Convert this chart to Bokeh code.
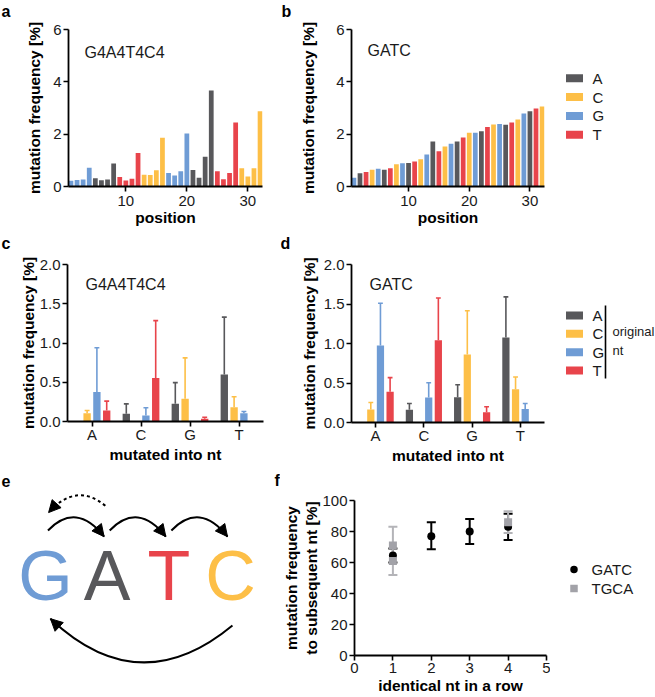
from bokeh.plotting import figure
from bokeh.models import (Range1d, FactorRange, ColumnDataSource, Label,
                          Arrow, NormalHead, Whisker, TeeHead, FixedTicker, CDSView, GroupFilter,
                          NumeralTickFormatter)
from bokeh.transform import dodge
from bokeh.layouts import column, row
from bokeh.embed import file_html
from bokeh.resources import INLINE
from bokeh.core.properties import value

FONT = "Liberation Sans"

# ---------------- data ----------------
positions = list(range(1, 33))
seq_g4 = list("GGGGAAAATTTTCCCCGGGGAAAATTTTCCCC")
freq_g4 = [0.22, 0.25, 0.27, 0.72, 0.32, 0.24, 0.27, 0.88, 0.36, 0.23, 0.30, 1.28, 0.45, 0.44, 0.62, 1.86,
           0.52, 0.42, 0.58, 2.03, 0.63, 0.33, 1.14, 3.67, 0.58, 0.28, 0.52, 2.45, 0.70, 0.38, 0.70, 2.88]
seq_gatc = list("GATC" * 8)
freq_gatc = [0.33, 0.51, 0.55, 0.64, 0.68, 0.64, 0.70, 0.85, 0.89, 0.90, 0.96, 1.04, 1.22, 1.72, 1.35, 1.53,
             1.63, 1.72, 1.87, 2.05, 2.05, 2.11, 2.27, 2.37, 2.39, 2.36, 2.45, 2.56, 2.79, 2.88, 2.98, 3.06]

nts = ["A", "C", "G", "T"]
nt_colors = ["#58585b", "#fdbf47", "#6f9cd5", "#e8444b"]
pos_ticks = [10, 20, 30]
freq_ticks = [0, 2, 4, 6]

mutated_into = ["A", "C", "G", "T"]
# mean / SD of mutation frequency, per original nt (None where original == mutated)
g4_mean = {"A": [None, 0.10, 0.225, 0.60], "C": [0.105, None, 0.29, 0.18],
           "G": [0.375, 0.077, None, 0.106], "T": [0.14, 0.553, 0.034, None]}
g4_sd = {"A": [None, 0.125, 0.27, 0.73], "C": [0.035, None, 0.52, 0.135],
         "G": [0.565, 0.098, None, 0.022], "T": [0.12, 0.732, 0.021, None]}
gatc_mean = {"A": [None, 0.16, 0.32, 1.076], "C": [0.165, None, 0.86, 0.42],
             "G": [0.975, 0.318, None, 0.17], "T": [0.39, 1.04, 0.13, None]}
gatc_sd = {"A": [None, 0.08, 0.158, 0.514], "C": [0.089, None, 0.555, 0.156],
           "G": [0.535, 0.186, None, 0.07], "T": [0.178, 0.536, 0.07, None]}
cd_ticks = [0, 0.5, 1.0, 1.5, 2.0]

motif = ["G", "A", "T", "C"]
motif_colors = ["#6f9cd5", "#58585b", "#e8444b", "#fdbf47"]

row_len = [1, 2, 3, 4]
gatc_sub_mean = [64.5, 77.0, 80.0, 83.0]
gatc_sub_low = [60.0, 68.5, 72.0, 74.5]
gatc_sub_high = [69.0, 86.0, 88.0, 91.5]
tgca_len = [1, 1, 4]
tgca_sub_mean = [71.0, 61.0, 86.0]
tgca_err_len = [1, 4]
tgca_err_low = [52.0, 79.0]
tgca_err_high = [83.0, 93.0]
f_xticks = [0, 1, 2, 3, 4, 5]
f_yticks = [0, 20, 40, 60, 80, 100]
series_f = ["GATC", "TGCA"]
series_f_colors = ["black", "#a2a2a8"]
series_f_markers = ["circle", "square"]

# ---------------- layout (page pixels, origin at top-left) ----------------
R1, R2, R3 = 0, 232, 472
H1, H2, H3 = 232, 240, 225
STRIP = 12
LEGX = 550           # left edge of the legend column
LEGW = 655 - LEGX


def no_align(f):
    try:
        f.frame_align = False
    except Exception:
        pass
    return f


def make_fig(col_x, col_w, row_y, row_h, box, x_range, y_range, **kw):
    left, top, w, h = box
    ml = left - col_x
    mt = top - row_y
    f = figure(width=col_w, height=row_h, x_range=x_range, y_range=y_range,
               output_backend="svg", toolbar_location=None, tools="",
               min_border_left=ml, min_border_top=mt,
               min_border_right=col_w - ml - w, min_border_bottom=row_h - mt - h, **kw)
    f.outline_line_color = None
    f.background_fill_color = "white"
    f.border_fill_color = "white"
    return no_align(f)


def blank_fig(width, height, xr, yr):
    f = figure(width=width, height=height, x_range=Range1d(*xr), y_range=Range1d(*yr),
               output_backend="svg", toolbar_location=None, tools="",
               x_axis_type=None, y_axis_type=None,
               min_border_left=0, min_border_right=0, min_border_top=0, min_border_bottom=0)
    f.outline_line_color = None
    f.xgrid.visible = False
    f.ygrid.visible = False
    f.background_fill_color = "white"
    f.border_fill_color = "white"
    return no_align(f)


def page_fig(x0, width, row_y, row_h):
    """blank figure whose data coordinates are page pixels (y downwards)"""
    return blank_fig(width, row_h, (x0, x0 + width), (row_y + row_h, row_y))


def letter_strip(letter, x0, row_y, row_h, px, py):
    f = page_fig(x0, STRIP, row_y, row_h)
    f.text(x=[px], y=[py], text=[letter], text_font=value(FONT),
           text_font_size=value("16px"), text_font_style="bold", text_color="black",
           text_align="left", text_baseline="middle")
    return f


def to_data(px, py, box, xr, yr):
    left, top, w, h = box
    x = xr[0] + (px - left) / w * (xr[1] - xr[0])
    y = yr[0] + (top + h - py) / h * (yr[1] - yr[0])
    return x, y


def style_axes(f, xlabel, ylabel, x_std, x_als, y_als):
    f.xgrid.visible = False
    f.ygrid.visible = False
    for ax in list(f.xaxis) + list(f.yaxis):
        ax.axis_line_color = "black"
        ax.axis_line_width = 1.8
        ax.major_tick_line_color = "black"
        ax.major_tick_line_width = 1.6
        ax.major_tick_out = 5
        ax.major_tick_in = 0
        ax.minor_tick_line_color = None
        ax.major_label_text_font = FONT
        ax.major_label_text_font_size = "15px"
        ax.major_label_text_color = "#1a1a1a"
        ax.axis_label_text_font = FONT
        ax.axis_label_text_font_style = "bold"
        ax.axis_label_text_font_size = "15.5px"
        ax.axis_label_text_color = "black"
    f.xaxis.axis_label = xlabel
    f.yaxis.axis_label = ylabel
    f.xaxis.major_label_standoff = x_std
    f.xaxis.axis_label_standoff = x_als
    f.yaxis.major_label_standoff = 2
    f.yaxis.axis_label_standoff = y_als


def add_text(f, text, px, py, box, xr, yr, size="16px"):
    x, y = to_data(px, py, box, xr, yr)
    f.add_layout(Label(x=x, y=y, text=text, text_font=FONT, text_font_size=size,
                       text_color="#1a1a1a", text_baseline="middle", text_align="left"))


def nt_legend(f, y0, step):
    ys = [y0 + step * i for i in range(len(nts))]
    f.rect(x=[574] * len(nts), y=ys, width=17, height=8, fill_color=nt_colors, line_color=None)
    f.text(x=[592] * len(nts), y=ys, text=nts, text_font=value(FONT), text_font_size=value("15px"),
           text_color="#1a1a1a", text_align="left", text_baseline="middle")


# ---------------- panels a / b ----------------
def position_panel(col_x, col_w, box, seq, freq, label, y_als, ty):
    xr, yr = (0.6, 32.4), (0, 6)
    f = make_fig(col_x, col_w, R1, H1, box, Range1d(*xr), Range1d(*yr))
    src = ColumnDataSource(dict(pos=positions, freq=freq, nt=seq))
    for n, c in zip(nts, nt_colors):
        f.vbar(x="pos", top="freq", width=0.78, source=src,
               view=CDSView(filter=GroupFilter(column_name="nt", group=n)),
               fill_color=c, line_color=None)
    style_axes(f, "position", "mutation frequency [%]", 4, 0, y_als)
    f.xaxis.ticker = FixedTicker(ticks=pos_ticks)
    f.yaxis.ticker = FixedTicker(ticks=freq_ticks)
    add_text(f, label, box[0] + 16, ty, box, xr, yr)
    return f


sa = letter_strip("a", 0, R1, H1, 1, 11)
pa = position_panel(STRIP, 268, (68, 29, 194, 157), seq_g4, freq_g4, "G4A4T4C4", 7, 52)
sb = letter_strip("b", 280, R1, H1, 281, 11)
pb = position_panel(280 + STRIP, LEGX - 280 - STRIP, (351, 29, 193, 157), seq_gatc, freq_gatc,
                    "GATC", 16, 50)
lb = page_fig(LEGX, LEGW, R1, H1)
nt_legend(lb, 77.7, 18.85)

# ---------------- panels c / d ----------------
offsets = [-0.3, -0.1, 0.1, 0.3]


def mut_panel(col_x, col_w, box, means, sds, label, y_als):
    xr, yr = (0, 4), (0, 2)
    f = make_fig(col_x, col_w, R2, H2, box, FactorRange(factors=mutated_into, range_padding=0),
                 Range1d(*yr))
    for n, c, off in zip(nts, nt_colors, offsets):
        cats = [m for m, v in zip(mutated_into, means[n]) if v is not None]
        vals = [v for v in means[n] if v is not None]
        sd = [s for s in sds[n] if s is not None]
        src = ColumnDataSource(dict(cat=cats, val=vals, up=[v + s for v, s in zip(vals, sd)]))
        f.vbar(x=dodge("cat", off, range=f.x_range), top="val", width=0.15, source=src,
               fill_color=c, line_color=None)
        f.segment(x0=dodge("cat", off, range=f.x_range), y0="val",
                  x1=dodge("cat", off, range=f.x_range), y1="up", source=src,
                  line_color=c, line_width=1.6)
        f.segment(x0=dodge("cat", off - 0.05, range=f.x_range), y0="up",
                  x1=dodge("cat", off + 0.05, range=f.x_range), y1="up", source=src,
                  line_color=c, line_width=1.6)
    style_axes(f, "mutated into nt", "mutation frequency [%]", -1, 0, y_als)
    f.yaxis.ticker = FixedTicker(ticks=cd_ticks)
    f.yaxis.formatter = NumeralTickFormatter(format="0.0")
    add_text(f, label, box[0] + 18, 284, box, xr, yr)
    return f


sc = letter_strip("c", 0, R2, H2, 1, 243)
pc = mut_panel(STRIP, 268, (67, 264, 196, 157), g4_mean, g4_sd, "G4A4T4C4", 0)
sd_ = letter_strip("d", 280, R2, H2, 280, 243)
pd_ = mut_panel(280 + STRIP, LEGX - 280 - STRIP, (351, 264, 193, 158), gatc_mean, gatc_sd, "GATC", 3)
ld = page_fig(LEGX, LEGW, R2, H2)
nt_legend(ld, 315, 18.35)
ld.segment(x0=[605], y0=[305], x1=[605], y1=[378], line_color="black", line_width=1.6)
ld.text(x=[612, 612], y=[331, 350], text=["original", "nt"], text_font=value(FONT),
        text_font_size=value("13px"), text_color="#1a1a1a", text_align="left", text_baseline="middle")

# ---------------- panel e (schematic) ----------------
exr = (-45 / 61.7, (280 - 45) / 61.7)
eyr = ((575 - 697) / 61.7, (575 - 472) / 61.7)
pe = blank_fig(280, H3, exr, eyr)
idx = list(range(len(motif)))
pe.text(x=idx, y=[0] * len(idx), text=motif, text_color=motif_colors,
        text_font=value(FONT), text_font_size=value("70px"),
        text_align="center", text_baseline="middle")

# forward arcs letter i -> i+1 (above)
fx0 = [i + 0.04 for i in idx[:-1]]
fx1 = [i + 1 - 0.05 for i in idx[:-1]]
fy0 = [0.73] * 3
fy1 = [0.63] * 3
fcx = [i + 0.5 for i in idx[:-1]]
fcy = [1.2] * 3
pe.quadratic(x0=fx0, y0=fy0, x1=fx1, y1=fy1, cx=fcx, cy=fcy, line_color="black", line_width=2)
# dashed back-arc A -> G
bx0, by0, bx1, by1, bcx, bcy = [0.97], [1.13], [0.05], [1.02], [0.5], [1.52]
pe.quadratic(x0=bx0, y0=by0, x1=bx1, y1=by1, cx=bcx, cy=bcy, line_color="black",
             line_width=2, line_dash="3 3")
# big arc C -> G (below)
lx0, ly0, lx1, ly1, lcx, lcy = [3.03], [-0.81], [0.08], [-0.70], [1.52], [-2.06]
pe.quadratic(x0=lx0, y0=ly0, x1=lx1, y1=ly1, cx=lcx, cy=lcy, line_color="black", line_width=2)

hx1 = fx1 + bx1 + lx1
hy1 = fy1 + by1 + ly1
hcx = fcx + bcx + lcx
hcy = fcy + bcy + lcy
hxs, hys = [], []
for x1, y1, cx, cy in zip(hx1, hy1, hcx, hcy):
    dx, dy = x1 - cx, y1 - cy
    d = (dx * dx + dy * dy) ** 0.5
    hxs.append(x1 - 0.06 * dx / d)
    hys.append(y1 - 0.06 * dy / d)
pe.add_layout(Arrow(end=NormalHead(size=12, fill_color="black", line_color="black", line_width=1),
                    source=ColumnDataSource(dict(xs=hxs, ys=hys, xe=hx1, ye=hy1)),
                    x_start="xs", y_start="ys", x_end="xe", y_end="ye", line_alpha=0))
pe.text(x=[(1 - 45) / 61.7, (274 - 45) / 61.7], y=[(575 - 480) / 61.7] * 2, text=["e", "f"],
        text_font=value(FONT), text_font_size=value("16px"), text_font_style="bold",
        text_color="black", text_align="left", text_baseline="middle")

# ---------------- panel f ----------------
fbox = (352, 500, 194, 155)
fxr, fyr = (0, 5), (0, 100)
pf = make_fig(280, LEGX - 280, R3, H3, fbox, Range1d(*fxr), Range1d(*fyr))
gsrc = ColumnDataSource(dict(x=row_len, y=gatc_sub_mean, lo=gatc_sub_low, hi=gatc_sub_high))
tsrc = ColumnDataSource(dict(x=tgca_len, y=tgca_sub_mean))
tesrc = ColumnDataSource(dict(x=tgca_err_len, lo=tgca_err_low, hi=tgca_err_high))
pf.add_layout(Whisker(source=gsrc, base="x", lower="lo", upper="hi", dimension="height",
                      line_color="black", line_width=2,
                      upper_head=TeeHead(size=9, line_color="black", line_width=2),
                      lower_head=TeeHead(size=9, line_color="black", line_width=2)))
pf.add_layout(Whisker(source=tesrc, base="x", lower="lo", upper="hi", dimension="height",
                      line_color="#b4b4b8", line_width=2,
                      upper_head=TeeHead(size=9, line_color="#b4b4b8", line_width=2),
                      lower_head=TeeHead(size=9, line_color="#b4b4b8", line_width=2)))
pf.scatter(x="x", y="y", source=gsrc, marker=series_f_markers[0], size=8,
           fill_color=series_f_colors[0], line_color=None)
pf.scatter(x="x", y="y", source=tsrc, marker=series_f_markers[1], size=8,
           fill_color=series_f_colors[1], line_color=None)
style_axes(pf, "identical nt in a row", "mutation frequency\nto subsequent nt [%]", 2, 1, -1)
pf.xaxis.ticker = FixedTicker(ticks=f_xticks)
pf.yaxis.ticker = FixedTicker(ticks=f_yticks)

lf = page_fig(LEGX, LEGW, R3, H3)
fys = [569 + 19 * i for i in range(len(series_f))]
lf.scatter(x=[573.5] * len(series_f), y=fys, marker=series_f_markers, size=7.5,
           fill_color=series_f_colors, line_color=None)
lf.text(x=[591] * len(series_f), y=fys, text=series_f, text_font=value(FONT),
        text_font_size=value("15px"), text_color="#1a1a1a", text_align="left", text_baseline="middle")

layout = column(row(sa, pa, sb, pb, lb), row(sc, pc, sd_, pd_, ld), row(pe, pf, lf))
open("out.html", "w").write(file_html(layout, INLINE))
